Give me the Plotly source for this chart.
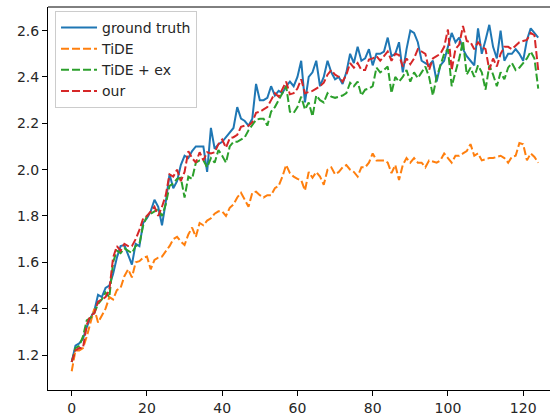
import plotly.graph_objects as go

steps = list(range(125))

ground_truth = [
    1.17, 1.24, 1.25, 1.27, 1.32, 1.36, 1.39, 1.46, 1.45, 1.49,
    1.50, 1.55, 1.62, 1.67, 1.675, 1.63, 1.59, 1.68, 1.67, 1.77,
    1.79, 1.82, 1.87, 1.84, 1.76, 1.86, 1.98, 1.92, 1.95, 2.02,
    2.06, 2.05, 2.08, 2.10, 2.10, 2.10, 1.99, 2.18, 2.09, 2.11,
    2.12, 2.14, 2.16, 2.18, 2.27, 2.22, 2.21, 2.19, 2.22, 2.37,
    2.30, 2.30, 2.31, 2.36, 2.32, 2.34, 2.33, 2.36, 2.38, 2.36,
    2.40, 2.47, 2.29, 2.40, 2.42, 2.47, 2.36, 2.40, 2.47, 2.42,
    2.39, 2.40, 2.37, 2.42, 2.50, 2.46, 2.53, 2.47, 2.48, 2.52,
    2.45, 2.50, 2.50, 2.51, 2.57, 2.49, 2.50, 2.55, 2.42, 2.52,
    2.60, 2.59, 2.55, 2.47, 2.46, 2.45, 2.47, 2.38, 2.45, 2.47,
    2.53, 2.59, 2.55, 2.57, 2.52, 2.49, 2.47, 2.45, 2.61, 2.50,
    2.56, 2.625, 2.53, 2.48, 2.60, 2.47, 2.50, 2.50, 2.52, 2.50,
    2.47, 2.56, 2.61, 2.59, 2.57,
]

tide = [
    1.13, 1.22, 1.22, 1.23, 1.28, 1.34, 1.40, 1.34, 1.37, 1.40,
    1.45, 1.44, 1.48, 1.49, 1.54, 1.57, 1.535, 1.60, 1.605, 1.62,
    1.625, 1.57, 1.61, 1.62, 1.625, 1.645, 1.67, 1.70, 1.71, 1.69,
    1.675, 1.72, 1.75, 1.71, 1.77, 1.76, 1.78, 1.79, 1.81, 1.82,
    1.82, 1.80, 1.835, 1.85, 1.88, 1.90, 1.87, 1.84, 1.90, 1.905,
    1.89, 1.88, 1.89, 1.89, 1.92, 1.93, 1.97, 2.02, 1.985, 1.97,
    1.96, 1.955, 1.91, 1.99, 1.965, 1.99, 1.97, 1.935, 2.00, 2.01,
    1.98, 1.99, 2.01, 2.02, 2.00, 1.99, 1.97, 2.01, 2.01, 2.03,
    2.07, 2.04, 2.04, 2.04, 2.03, 1.985, 2.02, 1.955, 2.02, 2.05,
    2.03, 2.05, 2.03, 2.03, 2.01, 2.04, 2.035, 2.03, 2.04, 2.07,
    2.05, 2.03, 2.06, 2.06, 2.07, 2.08, 2.11, 2.06, 2.07, 2.04,
    2.045, 2.05, 2.05, 2.055, 2.06, 2.05, 2.03, 2.055, 2.06, 2.115,
    2.11, 2.04, 2.07, 2.055, 2.03,
]

tide_ex = [
    1.17, 1.23, 1.24, 1.28, 1.35, 1.36, 1.38, 1.42, 1.44, 1.47,
    1.45, 1.60, 1.65, 1.64, 1.66, 1.65, 1.64, 1.67, 1.68, 1.76,
    1.80, 1.81, 1.82, 1.83, 1.80, 1.85, 1.93, 1.94, 1.96, 1.965,
    1.88, 1.97, 1.96, 2.03, 2.04, 2.04, 2.01, 2.05, 2.03, 2.085,
    2.06, 2.03, 2.10, 2.12, 2.12, 2.13, 2.14, 2.17, 2.19, 2.215,
    2.22, 2.22, 2.19, 2.25, 2.27, 2.30, 2.33, 2.36, 2.25, 2.245,
    2.27, 2.315, 2.26, 2.29, 2.23, 2.32, 2.30, 2.29, 2.33, 2.315,
    2.31, 2.315, 2.32, 2.33, 2.375, 2.36, 2.38, 2.32, 2.345, 2.35,
    2.36, 2.44, 2.42, 2.43, 2.445, 2.33, 2.40, 2.38, 2.40, 2.43,
    2.38, 2.42, 2.395, 2.42, 2.445, 2.40, 2.32, 2.40, 2.45, 2.50,
    2.52, 2.36, 2.42, 2.48, 2.555, 2.41, 2.44, 2.40, 2.45, 2.42,
    2.345, 2.45, 2.41, 2.36, 2.42, 2.39, 2.44, 2.46, 2.43, 2.44,
    2.46, 2.48, 2.51, 2.48, 2.35,
]

ours = [
    1.17, 1.22, 1.23, 1.23, 1.33, 1.37, 1.38, 1.43, 1.44, 1.45,
    1.48, 1.62, 1.67, 1.65, 1.68, 1.67, 1.67, 1.70, 1.74, 1.79,
    1.80, 1.82, 1.84, 1.80, 1.84, 1.89, 1.98, 1.97, 2.00, 1.95,
    1.99, 2.08, 2.05, 2.03, 2.075, 2.04, 2.075, 2.07, 2.075, 2.11,
    2.13, 2.095, 2.135, 2.14, 2.15, 2.185, 2.19, 2.19, 2.205, 2.245,
    2.25, 2.26, 2.27, 2.30, 2.33, 2.315, 2.35, 2.38, 2.325, 2.33,
    2.35, 2.39, 2.33, 2.335, 2.34, 2.35, 2.36, 2.375, 2.41, 2.43,
    2.41, 2.40, 2.38, 2.41, 2.46, 2.44, 2.46, 2.43, 2.43, 2.475,
    2.48, 2.49, 2.47, 2.49, 2.51, 2.47, 2.50, 2.495, 2.445, 2.48,
    2.455, 2.48, 2.52, 2.51, 2.50, 2.43, 2.48, 2.49, 2.50, 2.53,
    2.605, 2.43, 2.52, 2.54, 2.62, 2.555, 2.55, 2.52, 2.55, 2.53,
    2.52, 2.43, 2.48, 2.445, 2.50, 2.53, 2.53, 2.52, 2.535, 2.55,
    2.555, 2.56, 2.59, 2.58, 2.43,
]

x_ticks = [0, 20, 40, 60, 80, 100, 120]
y_ticks = [1.2, 1.4, 1.6, 1.8, 2.0, 2.2, 2.4, 2.6]
y_tick_text = ["1.2", "1.4", "1.6", "1.8", "2.0", "2.2", "2.4", "2.6"]

series = [
    ("ground truth", ground_truth, "#1f77b4", "solid"),
    ("TiDE", tide, "#ff7f0e", "8px,3px"),
    ("TiDE + ex", tide_ex, "#2ca02c", "8px,3px"),
    ("our", ours, "#d62728", "8px,3px"),
]

fig = go.Figure()
for name, vals, color, dash in series:
    fig.add_trace(go.Scatter(
        x=steps, y=vals, mode="lines", name=name, legendgroup=name,
        line=dict(color=color, width=2, dash=dash),
    ))

font = dict(family="DejaVu Sans", size=14, color="#262626")

fig.update_layout(
    width=550, height=413,
    margin=dict(l=48, r=0, t=7, b=23, pad=0),
    paper_bgcolor="white", plot_bgcolor="white",
    font=font,
    showlegend=True,
    legend=dict(
        x=0.014, y=0.99, xanchor="left", yanchor="top",
        bgcolor="rgba(255,255,255,0.8)", bordercolor="#cccccc", borderwidth=1,
        font=dict(family="DejaVu Sans", size=14, color="#262626"),
        itemwidth=36, tracegroupgap=0,
    ),
    xaxis=dict(
        range=[-6.3, 127.13], showgrid=False, zeroline=False, automargin=False,
        showline=True, linecolor="#000000", linewidth=1,
        ticks="outside", ticklen=5, tickcolor="#000000", tickwidth=1,
        tickvals=x_ticks, tickfont=font,
    ),
    yaxis=dict(
        range=[1.049, 2.702], showgrid=False, zeroline=False, automargin=False,
        showline=True, linecolor="#000000", linewidth=1,
        ticks="outside", ticklen=5, tickcolor="#000000", tickwidth=1,
        tickvals=y_ticks, ticktext=y_tick_text, tickfont=font,
    ),
    shapes=[dict(type="line", xref="paper", yref="paper", x0=0, x1=1, y0=1, y1=1,
                 line=dict(color="#000000", width=1))],
)

fig.write_html(
    "out.html",
    config={"displayModeBar": False},
    post_script="document.body.style.margin='0';document.body.style.overflow='hidden';",
)
